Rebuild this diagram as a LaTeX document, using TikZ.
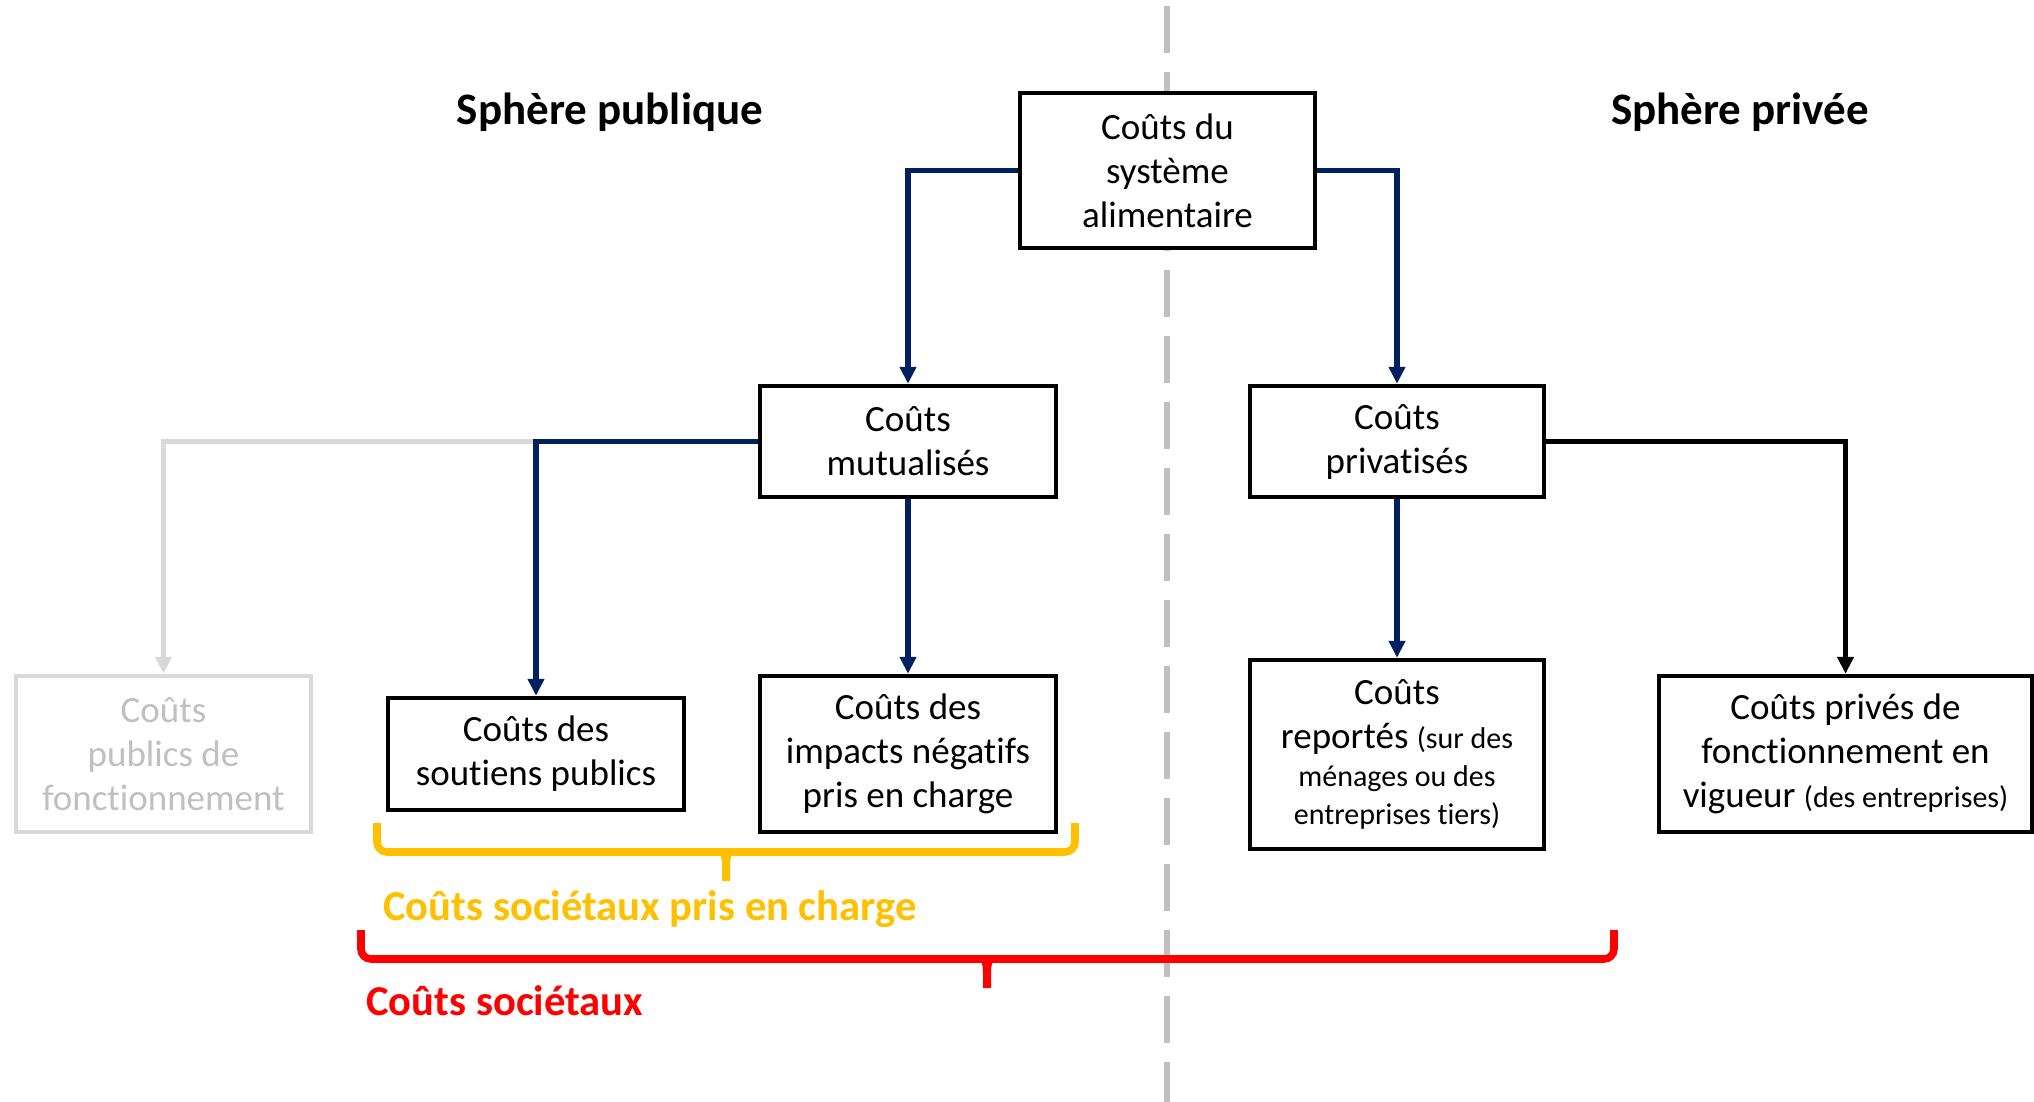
\documentclass[tikz,border=0pt]{standalone}
\usepackage{fontspec}
\setmainfont{Carlito}[Ligatures=NoCommon]
\usetikzlibrary{arrows.meta}
\definecolor{navy}{HTML}{002060}
\definecolor{lgray}{HTML}{D9D9D9}
\definecolor{tgray}{HTML}{C0C0C0}
\definecolor{dgray}{HTML}{BFBFBF}
\definecolor{yel}{HTML}{FFC000}
\definecolor{redc}{HTML}{FF0000}
\newcommand\smallf{\fontsize{15}{19}\selectfont}
\begin{document}
\begin{tikzpicture}[x=0.5pt,y=-0.5pt,
  costbox/.style={draw=black, line width=2.2pt, fill=white, align=center, inner sep=0pt,
    font=\fontsize{18.5}{22}\selectfont},
  conn/.style={line width=2.6pt, -{Triangle[length=8.5pt,width=8pt]}},
  head/.style={font=\fontsize{22.5}{26}\selectfont\bfseries, anchor=base, inner sep=0pt},
  bracelabel/.style={font=\fontsize{21.3}{26}\selectfont\bfseries, anchor=base west, inner sep=0pt},
  brace/.style={line width=3.8pt, rounded corners=5pt}
]
\fill[white] (0,0) rectangle (2034,1102);
\useasboundingbox (0,0) rectangle (2034,1102);

% dashed separator
\draw[dgray, line width=2.7pt, dash pattern=on 23.5pt off 9.5pt] (1167,6) -- (1167,1102);

% headings
\node[head] (hpub) at (610,125) {Sphère publique};
\node[head] (hpriv) at (1740,125) {Sphère privée};

% boxes
\node[costbox, minimum width=147.5pt, minimum height=77.5pt] (top) at (1167.5,170.5)
  {Coûts du\\système\\alimentaire};
\node[costbox, minimum width=148pt, minimum height=55.5pt] (mut) at (908,441.5)
  {Coûts\\mutualisés};
\node[costbox, minimum width=147pt, minimum height=55.5pt] (priv) at (1397,441.5)
  {Coûts\\privatisés};
\node[costbox, draw=lgray, text=tgray, minimum width=147.5pt, minimum height=78pt] (gray) at (163.5,754)
  {Coûts\\publics de\\fonctionnement};
\node[costbox, minimum width=148pt, minimum height=56pt] (sout) at (536,754)
  {Coûts des\\soutiens publics};
\node[costbox, minimum width=148pt, minimum height=78pt] (imp) at (908,754)
  {Coûts des\\impacts négatifs\\pris en charge};
\node[costbox, minimum width=147pt, minimum height=94.5pt] (rep) at (1397,754.5)
  {Coûts\\reportés {\smallf (sur des}\\[-3pt]{\smallf ménages ou des}\\[-3pt]{\smallf entreprises tiers)}};
\node[costbox, minimum width=186.5pt, minimum height=78pt] (prives) at (1845.5,754)
  {Coûts privés de\\fonctionnement en\\vigueur {\smallf (des entreprises)}};

% connectors
\coordinate (junc) at (sout.north |- mut.west);
\draw[conn, lgray] (junc) -| (gray.north);
\draw[conn, navy] (top.west) -| (mut.north);
\draw[conn, navy] (top.east) -| (priv.north);
\draw[conn, navy] (mut.west) -| (sout.north);
\draw[conn, navy] (mut.south) -- (imp.north);
\draw[conn, navy] (priv.south) -- (rep.north);
\draw[conn, black] (priv.east) -| (prives.north);

% yellow brace
\draw[brace, yel] (377,823) -- (377,852) -- (1075,852) -- (1075,823);
\fill[yel] (710,850) .. controls (721,850) and (722,857) .. (722,867) -- (722,881) -- (730,881)
  -- (730,867) .. controls (730,857) and (731,850) .. (742,850) -- cycle;
\node[bracelabel, text=yel] (lpec) at (383,920) {Coûts sociétaux pris en charge};

% red brace
\draw[brace, redc] (361,930) -- (361,959) -- (1614,959) -- (1614,930);
\fill[redc] (971,957) .. controls (982,957) and (983,964) .. (983,974) -- (983,988) -- (991,988)
  -- (991,974) .. controls (991,964) and (992,957) .. (1003,957) -- cycle;
\node[bracelabel, text=redc] (lsoc) at (366,1015) {Coûts sociétaux};
\end{tikzpicture}
\end{document}
